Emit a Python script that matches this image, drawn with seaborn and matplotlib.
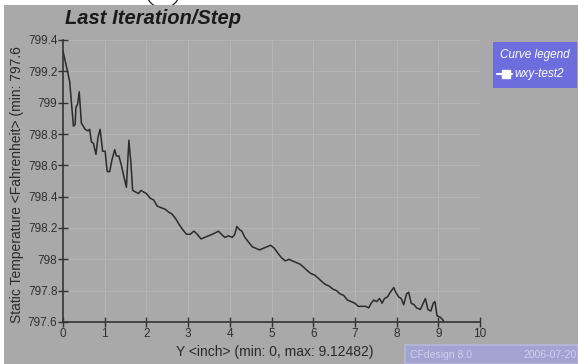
import numpy as np
import pandas as pd
import matplotlib
matplotlib.use("Agg")
import matplotlib.pyplot as plt
import seaborn as sns
from matplotlib.patches import Arc
from matplotlib.lines import Line2D
from matplotlib.transforms import Bbox

# ---- data ----
pos_inch = [0.00, 0.05, 0.16, 0.25, 0.29, 0.31, 0.35, 0.39, 0.44, 0.53, 0.60, 0.64,
            0.68, 0.73, 0.79, 0.84, 0.89, 0.95, 1.01, 1.06, 1.12, 1.17, 1.24, 1.28,
            1.34, 1.40, 1.45, 1.52, 1.58, 1.63, 1.67, 1.74, 1.81, 1.87, 1.93, 2.00,
            2.09, 2.17, 2.26, 2.35, 2.45, 2.54, 2.61, 2.70, 2.79, 2.87, 2.96, 3.05,
            3.14, 3.22, 3.31, 3.40, 3.49, 3.58, 3.66, 3.73, 3.80, 3.88, 3.97, 4.06,
            4.12, 4.17, 4.23, 4.29, 4.36, 4.45, 4.54, 4.63, 4.71, 4.80, 4.89, 4.98,
            5.07, 5.15, 5.24, 5.33, 5.42, 5.50, 5.59, 5.68, 5.77, 5.85, 5.94, 6.03,
            6.12, 6.20, 6.29, 6.38, 6.47, 6.56, 6.64, 6.73, 6.82, 6.91, 7.00, 7.08,
            7.17, 7.26, 7.33, 7.39, 7.45, 7.52, 7.59, 7.65, 7.71, 7.78, 7.85, 7.93,
            7.98, 8.05, 8.11, 8.17, 8.24, 8.29, 8.35, 8.42, 8.48, 8.57, 8.64, 8.69,
            8.75, 8.82, 8.88, 8.92, 8.97, 9.05, 9.12, 9.12482]
temp_f = [799.33, 799.27, 799.135, 798.85, 798.86, 798.97, 798.99, 799.07, 798.87,
          798.83, 798.82, 798.83, 798.75, 798.74, 798.67, 798.78, 798.83, 798.69,
          798.69, 798.56, 798.56, 798.63, 798.70, 798.66, 798.66, 798.60, 798.54,
          798.46, 798.76, 798.61, 798.44, 798.43, 798.42, 798.44, 798.43, 798.42,
          798.39, 798.38, 798.34, 798.33, 798.32, 798.30, 798.29, 798.26, 798.22,
          798.19, 798.16, 798.16, 798.18, 798.16, 798.13, 798.14, 798.15, 798.16,
          798.17, 798.18, 798.16, 798.14, 798.15, 798.14, 798.16, 798.21, 798.19,
          798.18, 798.14, 798.11, 798.08, 798.07, 798.06, 798.07, 798.08, 798.09,
          798.07, 798.04, 798.01, 797.99, 798.00, 797.99, 797.98, 797.97, 797.95,
          797.93, 797.91, 797.90, 797.88, 797.86, 797.84, 797.83, 797.81, 797.80,
          797.78, 797.77, 797.74, 797.73, 797.72, 797.70, 797.70, 797.70, 797.69,
          797.72, 797.74, 797.73, 797.75, 797.72, 797.75, 797.76, 797.79, 797.82,
          797.79, 797.76, 797.75, 797.71, 797.78, 797.79, 797.72, 797.71, 797.69,
          797.68, 797.72, 797.75, 797.68, 797.67, 797.72, 797.73, 797.64, 797.63,
          797.61, 797.60]
x_ticks = [0, 1, 2, 3, 4, 5, 6, 7, 8, 9, 10]
y_ticks = [797.6, 797.8, 798.0, 798.2, 798.4, 798.6, 798.8, 799.0, 799.2, 799.4]
y_tick_labels = ["797.6", "797.8", "798", "798.2", "798.4", "798.6", "798.8", "799", "799.2", "799.4"]
series_name = "wxy-test2"
title = "Last Iteration/Step"
x_label = "Y <inch> (min: 0, max: 9.12482)"
y_label = "Static Temperature <Fahrenheit> (min: 797.6"

df = pd.DataFrame({"pos": pos_inch, "temp": temp_f})

sns.set_theme(style="white")
plt.rcParams["font.family"] = ["Liberation Sans", "DejaVu Sans"]

W, H = 578, 364
fig = plt.figure(figsize=(W / 100, H / 100), dpi=100, facecolor="white")
bg = "#a9a9a9"

def px(x0, y0, x1, y1):
    return [x0 / W, 1 - y1 / H, (x1 - x0) / W, (y1 - y0) / H]

# gray panel as a background axes
bgax = fig.add_axes(px(4, 5, 578, 364), zorder=-5)
bgax.set_facecolor(bg)
bgax.set_xticks([])
bgax.set_yticks([])
for s in bgax.spines.values():
    s.set_visible(False)

# arc fragment in the white strip at the top
arc = Arc((163 / W, 1 + 9 / H), 34 / W, 34 / H, theta1=180, theta2=360,
          transform=fig.transFigure, color="#222222", lw=0.9, zorder=1)
fig.add_artist(arc)
arc.set_clip_box(Bbox.from_extents(0, H - 5, W, H))
arc.set_clip_on(True)

ax = fig.add_axes(px(63, 40, 480, 322))
ax.set_facecolor(bg)
sns.lineplot(data=df, x="pos", y="temp", ax=ax, color="#2b2b2b", linewidth=1.1,
             estimator=None, sort=False, legend=False)
ax.set_xlim(0, 10)
ax.set_ylim(797.6, 799.4)
ax.set_xticks(x_ticks)
ax.set_xticklabels([str(t) for t in x_ticks])
ax.set_yticks(y_ticks)
ax.set_yticklabels(y_tick_labels)
ax.grid(True, color="#b6b6b6", linewidth=0.7)
for s in ["top", "right"]:
    ax.spines[s].set_visible(False)
for s in ["left", "bottom"]:
    ax.spines[s].set_color("#333333")
    ax.spines[s].set_linewidth(1.2)
ax.tick_params(axis="both", which="major", bottom=True, left=True, direction="inout",
               length=7, width=1, color="#333333", labelsize=8.5, labelcolor="#303030",
               pad=0.5)
ax.set_xlabel("")
ax.set_ylabel("")

# title
fig.text(65 / W, 1 - 19 / H, title, fontsize=14.5, fontweight="bold", fontstyle="italic",
         color="#1a1a1a", ha="left", va="center")

# x label
fig.text(275 / W, 1 - 352 / H, x_label, fontsize=10, color="#2a2a2a", ha="center", va="center")

# y label (clipped at top)
yl = fig.text(17 / W, 1 - 323 / H, y_label, fontsize=10, color="#2a2a2a", rotation=90,
              ha="left", va="center", rotation_mode="anchor")
yl.set_clip_box(Bbox.from_extents(0, 0, W, H - 30))
yl.set_clip_on(True)

# legend box
legax = fig.add_axes(px(493, 42, 577, 88))
legax.set_xlim(0, 1)
legax.set_ylim(0, 1)
legax.set_facecolor("#6d6ddd")
for s in legax.spines.values():
    s.set_visible(False)
legax.set_xticks([])
legax.set_yticks([])
legax.text(0.5, 0.72, "Curve legend", color="white", fontsize=8.5, fontstyle="italic",
           ha="center", va="center")
legax.add_line(Line2D([0.05, 0.23], [0.31, 0.31], color="white", lw=1.5))
legax.plot([0.15], [0.31], marker="s", color="white", markersize=5.5)
legax.text(0.25, 0.31, series_name, color="white", fontsize=8.5, fontstyle="italic",
           ha="left", va="center")

# footer box
foot = fig.add_axes(px(405, 345, 578, 364))
foot.set_xlim(0, 1)
foot.set_ylim(0, 1)
foot.set_facecolor("#a3a3d2")
for s in foot.spines.values():
    s.set_edgecolor("#b5b5dd")
foot.set_xticks([])
foot.set_yticks([])
foot.text(0.03, 0.5, "CFdesign 8.0", color="#cfcfee", fontsize=7.5, ha="left", va="center")
foot.text(0.99, 0.5, "2006-07-20", color="#cfcfee", fontsize=7.5, ha="right", va="center")

fig.savefig("out.png", dpi=100, facecolor="white")
